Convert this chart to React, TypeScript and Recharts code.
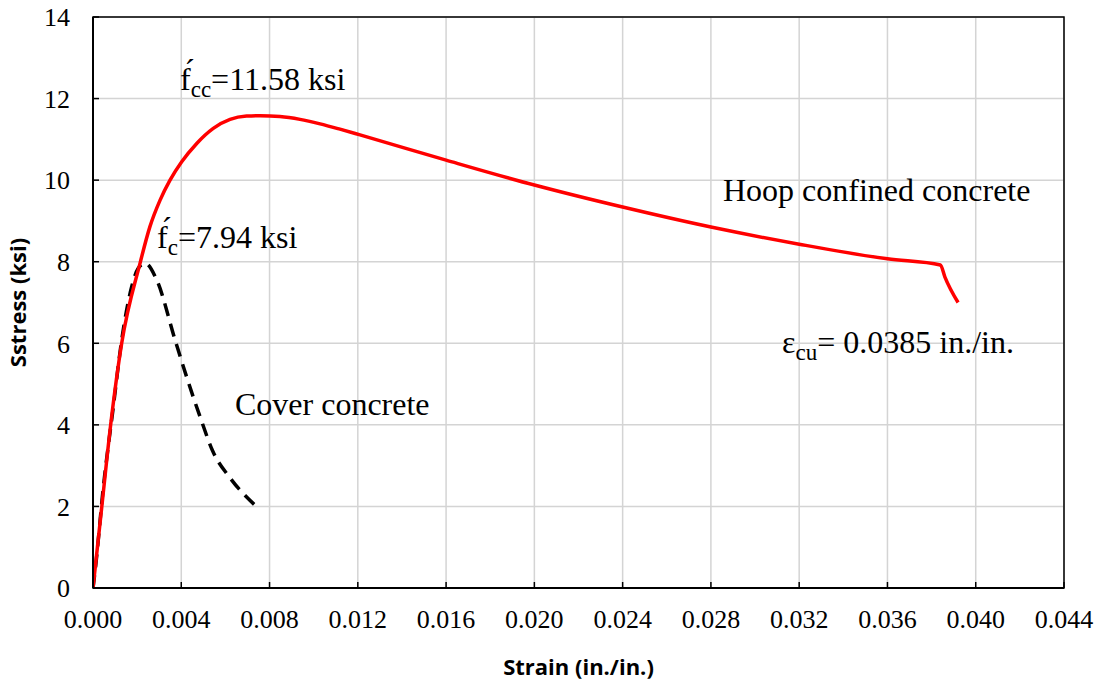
import { LineChart, Line, XAxis, YAxis, CartesianGrid, ReferenceArea } from 'recharts';

// hoop confined concrete (strain, stress ksi)
const confinedStrain = [0, 0.0004, 0.0008, 0.0013, 0.00213, 0.00258, 0.00304, 0.00349, 0.00402, 0.0047, 0.00545, 0.00621, 0.00696, 0.00757, 0.00847, 0.00938, 0.01029, 0.01119, 0.0121, 0.016, 0.02, 0.024, 0.028, 0.032, 0.036, 0.0384, 0.0386, 0.0392];
const confinedStress = [0, 2, 4, 6, 7.96, 8.86, 9.51, 10.0, 10.45, 10.9, 11.27, 11.49, 11.57, 11.58, 11.56, 11.49, 11.38, 11.25, 11.11, 10.49, 9.88, 9.34, 8.85, 8.43, 8.07, 7.92, 7.63, 7.0];

// cover (unconfined) concrete
const coverStrain = [0, 0.0001, 0.00047, 0.00092, 0.0013, 0.00175, 0.00205, 0.00236, 0.00289, 0.00372, 0.00424, 0.00485, 0.00544, 0.00621, 0.00742];
const coverStress = [0, 0.44, 2.48, 4.44, 6.08, 7.38, 7.84, 7.96, 7.55, 6.08, 5.18, 4.2, 3.34, 2.7, 1.99];

const xTicks = [0, 0.004, 0.008, 0.012, 0.016, 0.02, 0.024, 0.028, 0.032, 0.036, 0.04, 0.044];
const yTicks = [0, 2, 4, 6, 8, 10, 12, 14];

const confined = confinedStrain.map((x, i) => ({ x, y: confinedStress[i] }));
const cover = coverStrain.map((x, i) => ({ x, y: coverStress[i] }));

const serif = '"Liberation Serif", "Times New Roman", serif';
const sans = '"Open Sans", sans-serif';
const tickStyle = { fontFamily: serif, fontSize: 26, fill: '#000' };
const titleStyle = { fontFamily: sans, fontWeight: 700, fontSize: 22, fill: '#000' };

const note = (left: number, baseline: number): React.CSSProperties => ({
  position: 'absolute',
  left,
  top: baseline - 27,
  fontFamily: serif,
  fontSize: 32,
  lineHeight: '32px',
  whiteSpace: 'nowrap',
  color: '#000',
});

const sub: React.CSSProperties = { fontSize: '0.72em', position: 'relative', top: '0.3em' };

export default function App() {
  return (
    <div style={{ position: 'absolute', left: 0, top: 0, width: 1101, height: 685, background: '#fff' }}>
      <LineChart width={1101} height={685} margin={{ top: 17, right: 37, bottom: 0, left: 0 }}>
        <CartesianGrid stroke="#d4d4d4" strokeWidth={1.5} />
        <XAxis
          type="number"
          dataKey="x"
          domain={[0, 0.044]}
          ticks={xTicks}
          tickFormatter={(v: number) => v.toFixed(3)}
          tick={tickStyle}
          tickSize={-6}
          tickMargin={28}
          height={97}
          axisLine={{ stroke: '#000', strokeWidth: 2 }}
          tickLine={{ stroke: '#000', strokeWidth: 1.5 }}
          allowDataOverflow
          label={{ value: 'Strain (in./in.)', position: 'insideBottom', offset: 10, style: titleStyle }}
        />
        <YAxis
          type="number"
          dataKey="y"
          domain={[0, 14]}
          ticks={yTicks}
          tick={tickStyle}
          tickSize={-6}
          tickMargin={29}
          width={93}
          axisLine={{ stroke: '#000', strokeWidth: 2 }}
          tickLine={{ stroke: '#000', strokeWidth: 1.5 }}
          label={{ value: 'Sstress (ksi)', angle: -90, position: 'insideLeft', offset: 18, style: { ...titleStyle, textAnchor: 'middle' } }}
        />
        <ReferenceArea x1={0} x2={0.044} y1={0} y2={14} fill="none" stroke="#000" strokeWidth={1.5} />
        <Line data={cover} dataKey="y" type="monotone" stroke="#000" strokeWidth={3.5} strokeDasharray="13 8" dot={false} isAnimationActive={false} />
        <Line data={confined} dataKey="y" type="monotone" stroke="#ff0000" strokeWidth={3.5} dot={false} isAnimationActive={false} />
      </LineChart>

      <div style={note(180, 90)}>
        {'f\u0301'}
        <span style={sub}>cc</span>=11.58 ksi
      </div>
      <div style={note(157, 248)}>
        {'f\u0301'}
        <span style={sub}>c</span>=7.94 ksi
      </div>
      <div style={note(723, 201)}>Hoop confined concrete</div>
      <div style={note(782, 353)}>
        ε<span style={sub}>cu</span>= 0.0385 in./in.
      </div>
      <div style={note(235, 415)}>Cover concrete</div>
    </div>
  );
}
